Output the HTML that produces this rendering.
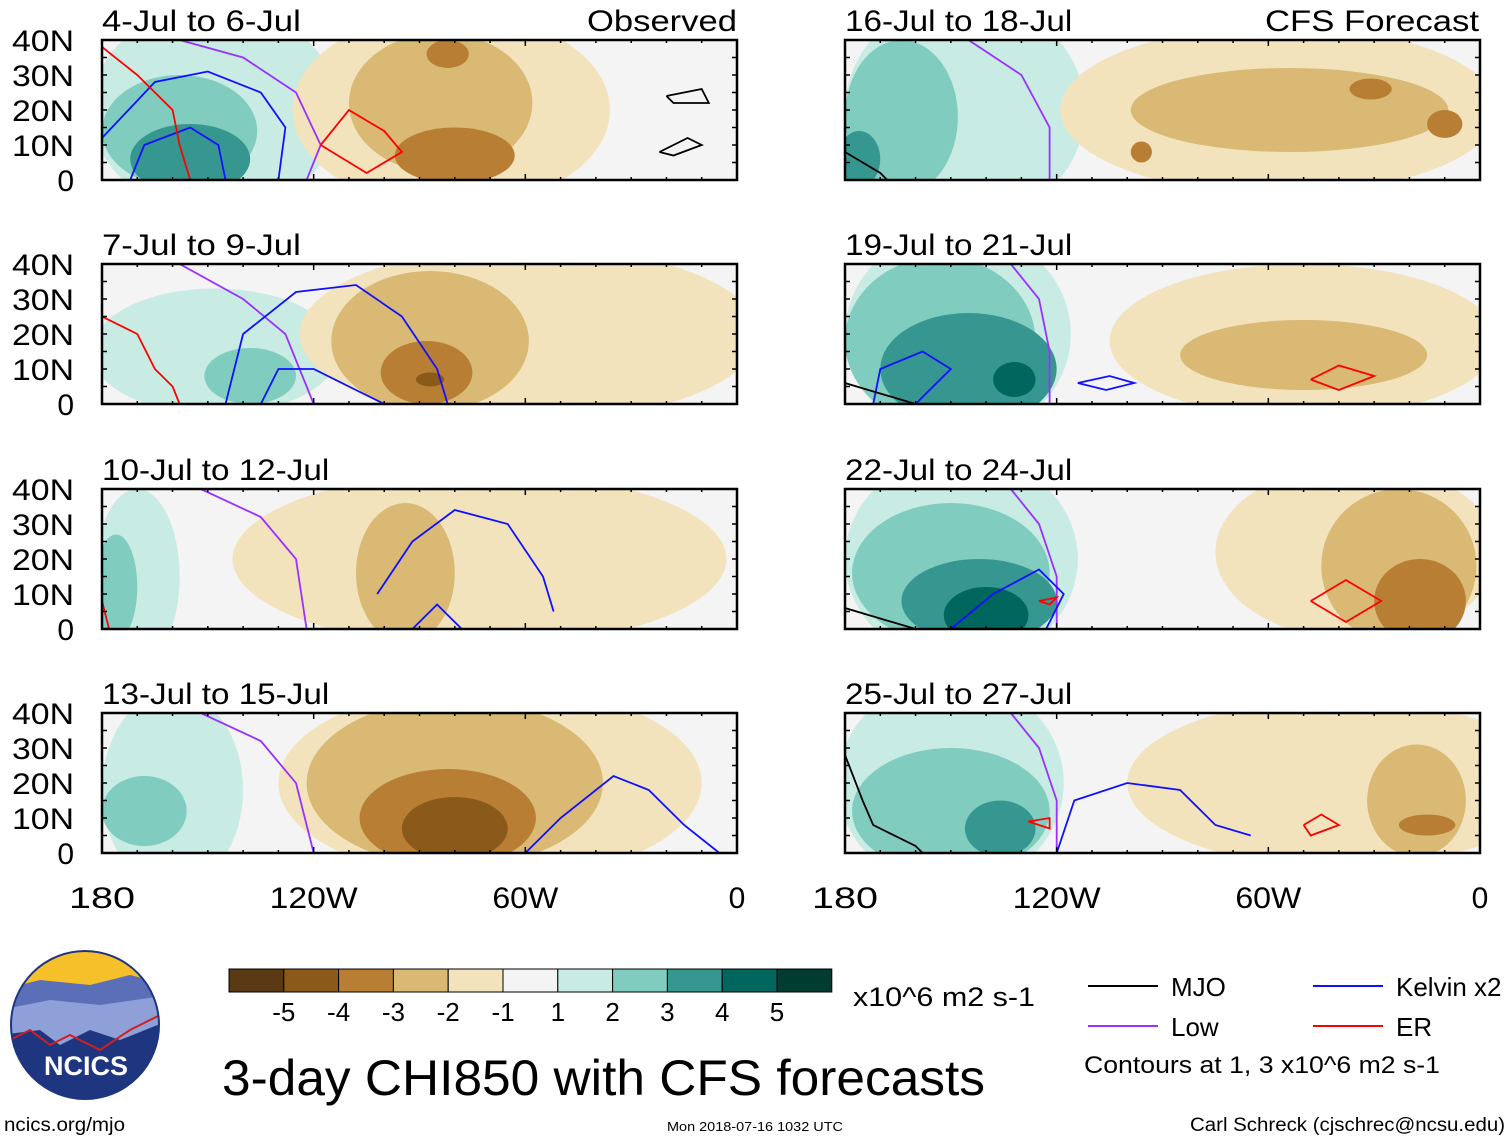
<!DOCTYPE html>
<html><head><meta charset="utf-8"><style>
body{margin:0;background:#fff;width:1510px;height:1141px;overflow:hidden;font-family:"Liberation Sans",sans-serif}
svg{position:absolute;left:0;top:0}
</style></head><body>
<svg id="fig" width="1510" height="1141" xmlns="http://www.w3.org/2000/svg" font-family="Liberation Sans, sans-serif"></svg>
<script>
const levelColors=['#5a3a14','#8b5a1a','#b87f34','#d9b974','#f2e3bd','#f4f4f4','#c8ebe4','#80cdc0','#35978f','#01665e','#003c30'];
const colorbarTicks=['-5','-4','-3','-2','-1','1','2','3','4','5'];
const panelTitles=['4-Jul to 6-Jul','16-Jul to 18-Jul','7-Jul to 9-Jul','19-Jul to 21-Jul','10-Jul to 12-Jul','22-Jul to 24-Jul','13-Jul to 15-Jul','25-Jul to 27-Jul'];
const latTicks=[40,30,20,10,0];
const latLabels=['40N','30N','20N','10N','0'];
const lonTicks=[-180,-120,-60,0];
const lonLabels=['180','120W','60W','0'];
// blobs: [lon, lat, halfWidthDeg, halfHeightDeg, level(-5..5)]
const blobs=[
 [[-148,20,35,30,1],[-158,14,22,16,2],[-155,6,17,10,3],[-81,20,45,28,-1],[-84,22,26,20,-2],[-80,7,17,8,-3],[-82,36,6,4,-3]],
 [[-146,20,34,32,1],[-164,18,16,22,2],[-176,6,6,8,3],[-57,20,62,24,-1],[-54,20,45,12,-2],[-31,26,6,3,-3],[-10,16,5,4,-3],[-96,8,3,3,-3]],
 [[-148,15,35,18,1],[-138,8,13,8,2],[-59,20,65,25,-1],[-87,18,28,20,-2],[-88,9,13,9,-3],[-87,7,4,2,-4]],
 [[-148,20,32,30,1],[-153,18,27,24,2],[-145,10,25,16,3],[-132,7,6,5,4],[-50,18,55,22,-1],[-50,14,35,10,-2]],
 [[-170,15,12,25,1],[-176,12,6,15,2],[-73,20,70,25,-1],[-94,16,14,20,-2]],
 [[-147,20,33,30,1],[-150,16,28,20,2],[-142,8,22,12,3],[-140,4,12,8,4],[-35,22,40,25,-1],[-23,18,22,22,-2],[-17,8,13,12,-3]],
 [[-160,18,20,28,1],[-168,12,12,10,2],[-70,20,60,28,-1],[-80,20,42,24,-2],[-82,10,25,14,-3],[-80,7,15,9,-4]],
 [[-150,20,32,30,1],[-150,12,28,18,2],[-136,7,10,8,3],[-40,20,60,24,-1],[-18,15,14,16,-2],[-15,8,8,3,-3]]
];
// contour lines: [color, [lon,lat,...]]
const contours=[
 [['#9b30ff',[-158,40,-140,35,-125,25,-118,10,-122,0]],['#1010ff',[-180,12,-165,28,-150,31,-135,25,-128,15,-130,0]],['#1010ff',[-172,0,-168,10,-155,15,-147,10,-145,0]],['#ff0000',[-180,38,-170,30,-160,20,-158,10,-155,0]],['#ff0000',[-118,10,-110,20,-100,14,-95,8,-105,2,-118,10]],['#000',[-20,24,-10,26,-8,22,-18,22,-20,24]],['#000',[-22,8,-14,12,-10,10,-18,7,-22,8]]],
 [['#9b30ff',[-145,40,-130,30,-122,15,-122,0]],['#000',[-180,8,-170,2,-168,0]]],
 [['#9b30ff',[-158,40,-140,30,-128,20,-120,0]],['#1010ff',[-145,0,-140,20,-125,32,-108,34,-95,25,-85,10,-82,0]],['#1010ff',[-135,0,-130,10,-120,10,-110,5,-100,0]],['#ff0000',[-180,25,-170,20,-165,10,-160,5,-158,0]]],
 [['#9b30ff',[-133,40,-125,30,-122,15,-122,0]],['#1010ff',[-172,0,-170,10,-158,15,-150,10,-160,0]],['#1010ff',[-114,6,-105,8,-98,6,-106,4,-114,6]],['#ff0000',[-48,7,-40,11,-30,8,-40,4,-48,7]],['#000',[-180,6,-160,0]]],
 [['#9b30ff',[-152,40,-135,32,-125,20,-122,0]],['#1010ff',[-102,10,-92,25,-80,34,-65,30,-55,15,-52,5]],['#1010ff',[-92,0,-85,7,-78,0]],['#ff0000',[-180,8,-178,0]]],
 [['#9b30ff',[-133,40,-125,30,-120,15,-120,0]],['#1010ff',[-150,0,-138,10,-125,17,-118,10,-123,0]],['#ff0000',[-125,8,-120,9,-122,7,-125,8]],['#ff0000',[-48,8,-38,14,-28,8,-38,2,-48,8]],['#000',[-180,6,-160,0]]],
 [['#9b30ff',[-152,40,-135,32,-125,20,-120,0]],['#1010ff',[-60,0,-50,10,-35,22,-25,18,-15,8,-5,0]]],
 [['#9b30ff',[-133,40,-125,30,-120,15,-120,0]],['#1010ff',[-120,0,-115,15,-100,20,-85,18,-75,8,-65,5]],['#ff0000',[-128,9,-122,10,-122,7,-128,9]],['#ff0000',[-50,8,-45,11,-40,8,-48,5,-50,8]],['#000',[-180,28,-175,15,-172,8,-160,2,-158,0]]]
];
const svg=document.getElementById('fig');const NS='http://www.w3.org/2000/svg';
function mk(t,a,p){const e=document.createElementNS(NS,t);for(const k in a)e.setAttribute(k,a[k]);(p||svg).appendChild(e);return e;}
const colX=[102,845],rowY=[40,264,489,713],PW=635,PH=140;
function xs(px,lon){return px+(lon+180)*PW/180;}
function ys(py,lat){return py+PH-lat*PH/40;}
const defs=mk('defs',{});
function txt(x,y,s,fs,name,anchor,len){const a={x:x,y:y,'font-size':fs,'text-anchor':anchor||'start'};if(len){a.textLength=len;a.lengthAdjust='spacingAndGlyphs';}const t=mk('text',a);t.textContent=s;return t;}
panelTitles.forEach((title,i)=>{
 const px=colX[i%2],py=rowY[Math.floor(i/2)];
 const cp=mk('clipPath',{id:'c'+i},defs);mk('rect',{x:px,y:py,width:PW,height:PH},cp);
 const g=mk('g',{'clip-path':'url(#c'+i+')'});
 
 
 mk('rect',{x:px,y:py,width:PW,height:PH,fill:levelColors[5]},g);
 blobs[i].forEach(b=>{
  const idx=b[4]+5;
  const el=mk('ellipse',{cx:xs(px,b[0]),cy:ys(py,b[1]),rx:b[2]*PW/180,ry:b[3]*PH/40,fill:levelColors[idx]},g);
  
  
 });
 contours[i].forEach(c=>{
  const p=c[1];let d='';for(let k=0;k<p.length;k+=2)d+=(k?'L':'M')+xs(px,p[k]).toFixed(1)+','+ys(py,p[k+1]).toFixed(1);
  const el=mk('path',{d:d,fill:'none',stroke:c[0],'stroke-width':1.8},g);
  
  
 });
 mk('rect',{x:px,y:py,width:PW,height:PH,fill:'none',stroke:'#000','stroke-width':2.5});
 for(let lon=-180;lon<=0;lon+=10){const x=xs(px,lon);const l=lon%60==0?6:3;mk('line',{x1:x,x2:x,y1:py,y2:py+l,stroke:'#000','stroke-width':1.5});mk('line',{x1:x,x2:x,y1:py+PH,y2:py+PH-l,stroke:'#000','stroke-width':1.5});}
 for(let lat=0;lat<=40;lat+=5){const y=ys(py,lat);mk('line',{x1:px,x2:px+5,y1:y,y2:y,stroke:'#000','stroke-width':1.5});mk('line',{x1:px+PW,x2:px+PW-5,y1:y,y2:y,stroke:'#000','stroke-width':1.5});}
 txt(px,py-9,title,30,'panel-title','start',title.length*14.2);
 if(i%2==0){latTicks.forEach((lat,k)=>{txt(74,ys(py,lat)+11,latLabels[k],30,'lat-tick-label','end',latLabels[k].length>1?62:null);});}
});
txt(737,31,'Observed',30,'observed-label','end',150);
txt(1479,31,'CFS Forecast',30,'forecast-label','end',214);
colX.forEach(px=>{lonTicks.forEach((lon,k)=>{const s=lonLabels[k];txt(xs(px,lon),908,s,30,'lon-tick-label','middle',s.length>1?s.length*22:null);});});
levelColors.forEach((c,k)=>{const r=mk('rect',{x:229+k*54.8,y:969,width:54.8,height:23,fill:c,stroke:'#000','stroke-width':1});
 });
colorbarTicks.forEach((s,k)=>{txt(229+(k+1)*54.8,1021,s,26,'colorbar-tick','middle');});
txt(853,1006,'x10^6 m2 s-1',27,'colorbar-units','start',182);
txt(222,1095,'3-day CHI850 with CFS forecasts',50,'figure-title','start',763);
[['#000',1088,986,'MJO'],['#1010ff',1313,986,'Kelvin x2'],['#9b30ff',1088,1026,'Low'],['#ff0000',1313,1026,'ER']].forEach(l=>{
 const ln=mk('line',{x1:l[1],x2:l[1]+70,y1:l[2],y2:l[2],stroke:l[0],'stroke-width':2});
 txt(l[1]+83,l[2]+10,l[3],26,'legend-entry');});
txt(1084,1073,'Contours at 1, 3 x10^6 m2 s-1',24,'contour-note','start',356);
txt(4,1131,'ncics.org/mjo',19,'footer-url','start',121);
txt(755,1131,'Mon 2018-07-16 1032 UTC',13,'footer-date','middle',176);
txt(1505,1131,'Carl Schreck (cjschrec@ncsu.edu)',19,'footer-author','end',315);
const lg=mk('g',{});
const lc=mk('clipPath',{id:'lc'},defs);mk('circle',{cx:85,cy:1025,r:74},lc);
const lgi=mk('g',{'clip-path':'url(#lc)'},lg);
mk('rect',{x:0,y:950,width:170,height:150,fill:'#f5c02a'},lgi);
mk('path',{d:'M0,990 L40,980 L90,985 L130,975 L170,985 L170,1100 L0,1100Z',fill:'#5a6fb8'},lgi);
mk('path',{d:'M0,1010 L50,1000 L100,1005 L170,995 L170,1100 L0,1100Z',fill:'#8fa0d8'},lgi);
mk('path',{d:'M0,1035 L40,1030 L60,1045 L90,1030 L120,1040 L170,1020 L170,1100 L0,1100Z',fill:'#1e3580'},lgi);
mk('path',{d:'M10,1040 L30,1030 L50,1045 L70,1035 L100,1050 L130,1030 L160,1015',fill:'none',stroke:'#d02020','stroke-width':2},lgi);
mk('circle',{cx:85,cy:1025,r:74,fill:'none',stroke:'#1e3580','stroke-width':2},lg);
const lt=mk('text',{x:86,y:1075,'font-size':27,'font-weight':'bold','text-anchor':'middle',fill:'#fff'},lg);lt.textContent='NCICS';
</script>
</body></html>
